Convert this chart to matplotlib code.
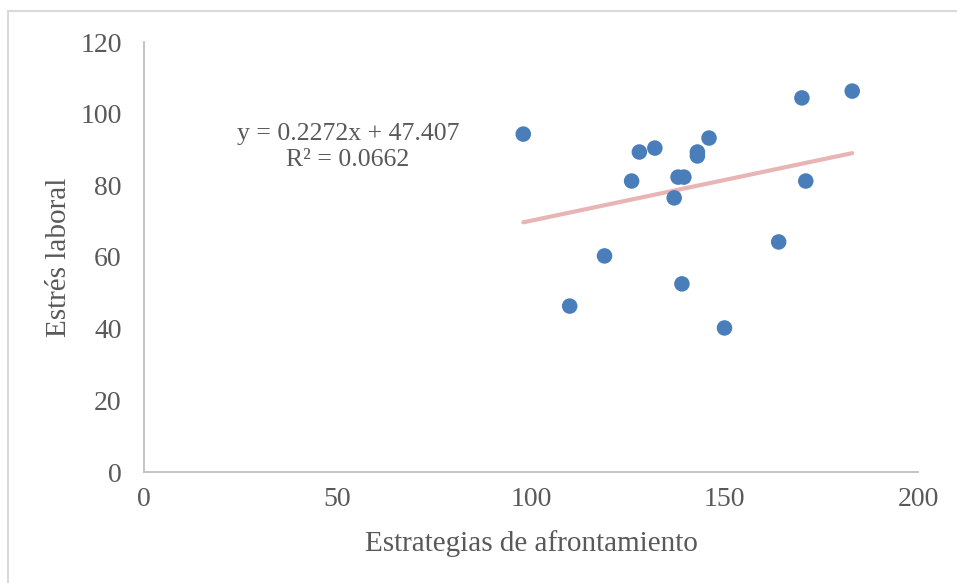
import matplotlib
matplotlib.use("Agg")
import matplotlib.pyplot as plt
from matplotlib.lines import Line2D

# data
afrontamiento = [98, 110, 119, 126, 128, 132, 137, 138, 139.5, 139, 143, 143, 146, 150, 164, 170, 171, 183]
estres = [94.3, 46.3, 60.3, 81.2, 89.3, 90.4, 76.5, 82.3, 82.3, 52.5, 89.3, 88.2, 93.2, 40.2, 64.2, 104.4, 81.2, 106.3]
slope, intercept, r2 = 0.2272, 47.407, 0.0662

GRID = "#bfbfbf"
TEXT = "#595959"
DOT = "#4a7ebb"
TREND = "#e8b4b4"

plt.rcParams["font.family"] = ["Liberation Serif", "DejaVu Serif"]

fig = plt.figure(figsize=(9.57, 5.83), dpi=100)
ax = fig.add_axes([144/957, 1 - 472/583, 774/957, 430/583])

ax.scatter(afrontamiento, estres, s=125, color=DOT, edgecolors="none", zorder=3)
x0, x1 = min(afrontamiento), max(afrontamiento)
ax.plot([x0, x1], [slope*x0 + intercept, slope*x1 + intercept], color=TREND, lw=3,
        solid_capstyle="round", zorder=2)

ax.set_xlim(0, 200); ax.set_ylim(0, 120)
ax.set_xticks(range(0, 201, 50)); ax.set_yticks(range(0, 121, 20))
ax.tick_params(length=0, labelsize=20, colors=TEXT)
ax.tick_params(axis="x", pad=11)
ax.tick_params(axis="y", pad=16)
for s in ("top", "right"):
    ax.spines[s].set_visible(False)
for s in ("left", "bottom"):
    ax.spines[s].set_color(GRID); ax.spines[s].set_linewidth(1.3)

ax.set_xlabel("Estrategias de afrontamiento", fontsize=21, color=TEXT, labelpad=13)
ax.set_ylabel("Estrés laboral", fontsize=21, color=TEXT, labelpad=6)

fig.text(348/957, 1 - 134/583, f"y = {slope}x + {intercept}", ha="center", va="center",
         fontsize=18.5, color=TEXT)
fig.text(348/957, 1 - 160/583, f"R² = {r2}", ha="center", va="center",
         fontsize=18.5, color=TEXT)

# chart frame (top and left edges visible in the crop)
fig.add_artist(Line2D([8/957, 8/957], [0, 1 - 11/583], color="#d9d9d9", lw=1.5, transform=fig.transFigure))
fig.add_artist(Line2D([8/957, 1], [1 - 11/583, 1 - 11/583], color="#d9d9d9", lw=1.5, transform=fig.transFigure))

fig.savefig("out.png", dpi=100, facecolor="white")
